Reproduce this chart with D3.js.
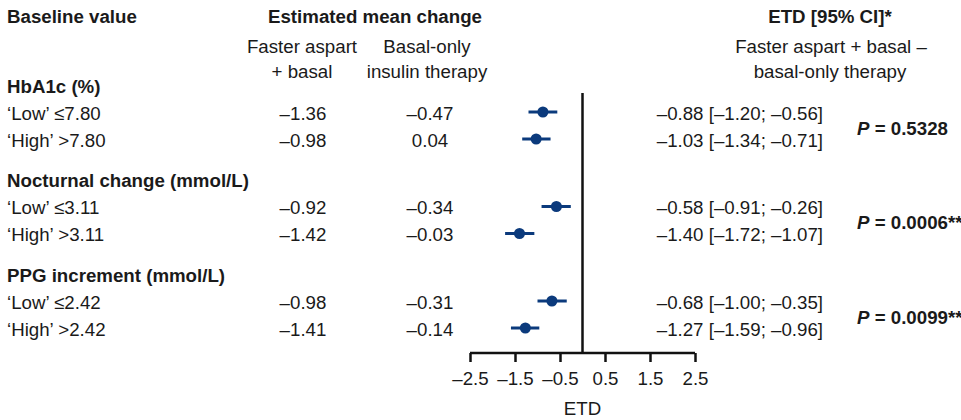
<!DOCTYPE html>
<html>
<head>
<meta charset="utf-8">
<script src="https://cdn.jsdelivr.net/npm/d3@7"></script>
<style>
  html, body { margin: 0; padding: 0; background: #fff; }
  svg { display: block; }
  text { font-family: "Liberation Sans", Arial, Helvetica, sans-serif; font-size: 18.7px; fill: #1a1a1a; }
  .b { font-weight: bold; }
</style>
</head>
<body>
<svg id="chart" width="961" height="420"></svg>
<script>
const groups = ["HbA1c (%)", "Nocturnal change (mmol/L)", "PPG increment (mmol/L)"];
const rowLabels = ["\u2018Low\u2019 \u22647.80", "\u2018High\u2019 >7.80", "\u2018Low\u2019 \u22643.11", "\u2018High\u2019 >3.11", "\u2018Low\u2019 \u22642.42", "\u2018High\u2019 >2.42"];
const fasterAspart = [-1.36, -0.98, -0.92, -1.42, -0.98, -1.41];
const basalOnly = [-0.47, 0.04, -0.34, -0.03, -0.31, -0.14];
const etd = [-0.88, -1.03, -0.58, -1.40, -0.68, -1.27];
const ciLow = [-1.20, -1.34, -0.91, -1.72, -1.00, -1.59];
const ciHigh = [-0.56, -0.71, -0.26, -1.07, -0.35, -0.96];
const pValues = ["0.5328", "0.0006**", "0.0099**"];
const tickValues = [-2.5, -1.5, -0.5, 0.5, 1.5, 2.5];

const svg = d3.select("#chart");
const fmt = v => (v < 0 ? "\u2013" : "") + Math.abs(v).toFixed(2);

// layout: slot index -> baseline y
const y = d3.scaleLinear().domain([0, 1]).range([92.5, 119.5]);
const x = d3.scaleLinear().domain([-2.5, 2.5]).range([470, 695]);
const rowSlot = i => Math.floor(i / 2) * 3.5 + 1 + (i % 2);
const groupSlot = g => g * 3.5;
const navy = "#0b3a7c";

// headers
svg.append("text").attr("class", "b").attr("x", 7).attr("y", 23).text("Baseline value");
svg.append("text").attr("class", "b").attr("x", 375).attr("y", 23).attr("text-anchor", "middle").text("Estimated mean change");
svg.append("text").attr("class", "b").attr("x", 830).attr("y", 23).attr("text-anchor", "middle").text("ETD [95% CI]*");
const sub = [
  [302, 53, "Faster aspart"], [302, 78, "+ basal"],
  [427, 53, "Basal-only"], [427, 78, "insulin therapy"],
  [831, 53, "Faster aspart + basal \u2013"], [830, 78, "basal-only therapy"]
];
svg.selectAll("text.sub").data(sub).enter().append("text").attr("class", "sub")
  .attr("x", d => d[0]).attr("y", d => d[1]).attr("text-anchor", "middle").text(d => d[2]);

// group headers
svg.selectAll("text.grp").data(groups).enter().append("text").attr("class", "grp b")
  .attr("x", 7).attr("y", (d, g) => y(groupSlot(g))).text(d => d);

// row labels & values
const rows = rowLabels.map((l, i) => ({ i, l }));
svg.selectAll("text.rl").data(rows).enter().append("text").attr("class", "rl")
  .attr("x", 7).attr("y", d => y(rowSlot(d.i))).text(d => d.l);
svg.selectAll("text.fa").data(rows).enter().append("text").attr("class", "fa")
  .attr("x", 303).attr("y", d => y(rowSlot(d.i))).attr("text-anchor", "middle").text(d => fmt(fasterAspart[d.i]));
svg.selectAll("text.bo").data(rows).enter().append("text").attr("class", "bo")
  .attr("x", 430).attr("y", d => y(rowSlot(d.i))).attr("text-anchor", "middle").text(d => fmt(basalOnly[d.i]));
svg.selectAll("text.etd").data(rows).enter().append("text").attr("class", "etd")
  .attr("x", 823).attr("y", d => y(rowSlot(d.i))).attr("text-anchor", "end")
  .text(d => `${fmt(etd[d.i])} [${fmt(ciLow[d.i])}; ${fmt(ciHigh[d.i])}]`);

// p values
const pt = svg.selectAll("text.pv").data(pValues).enter().append("text").attr("class", "pv b")
  .attr("x", 857).attr("y", (d, g) => (y(rowSlot(g * 2)) + y(rowSlot(g * 2 + 1))) / 2 + 1.5);
pt.append("tspan").attr("font-style", "italic").text("P");
pt.append("tspan").text(d => " = " + d);

// zero line
svg.append("line").attr("x1", x(0)).attr("x2", x(0)).attr("y1", 93).attr("y2", 353)
  .attr("stroke", "#111").attr("stroke-width", 2.5);

// axis
const axisG = svg.append("g").attr("transform", "translate(0,353)")
  .call(d3.axisBottom(x).tickValues(tickValues).tickSize(9).tickPadding(6)
    .tickFormat(v => (v < 0 ? "\u2013" : "") + Math.abs(v).toFixed(1)));
axisG.select(".domain").attr("stroke", "#111").attr("stroke-width", 2.5).attr("d", `M${x(-2.5)},0H${x(2.5)}`);
axisG.selectAll(".tick line").attr("stroke", "#111").attr("stroke-width", 2.5);
axisG.selectAll(".tick text").attr("font-size", null).attr("font-family", null).attr("fill", "#1a1a1a").attr("dy", null).attr("y", 32);
svg.append("text").attr("x", x(0)).attr("y", 415).attr("text-anchor", "middle").text("ETD");

// CIs & points
svg.selectAll("line.ci").data(rows).enter().append("line").attr("class", "ci")
  .attr("x1", d => x(ciLow[d.i])).attr("x2", d => x(ciHigh[d.i]))
  .attr("y1", d => y(rowSlot(d.i)) - 7.5).attr("y2", d => y(rowSlot(d.i)) - 7.5)
  .attr("stroke", navy).attr("stroke-width", 3);
svg.selectAll("circle.pt").data(rows).enter().append("circle").attr("class", "pt")
  .attr("cx", d => x(etd[d.i])).attr("cy", d => y(rowSlot(d.i)) - 7.5).attr("r", 5.5)
  .attr("fill", navy);
</script>
</body>
</html>
